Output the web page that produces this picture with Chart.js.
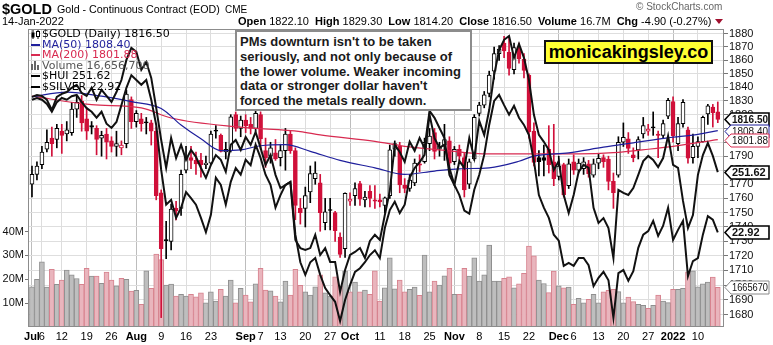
<!DOCTYPE html>
<html>
<head>
<meta charset="utf-8">
<title>$GOLD Daily</title>
<script src="https://cdn.jsdelivr.net/npm/chart.js@4.4.1/dist/chart.umd.min.js"></script>
<style>
  html, body { margin: 0; padding: 0; background: #fff; }
  #wrap { position: relative; width: 773px; height: 345px; overflow: hidden; font-family: Arial, "Liberation Sans", sans-serif; color: #000; }
  #chart { position: absolute; left: 0; top: 0; }
  .t { position: absolute; white-space: nowrap; }
  #sym { left: 2px; top: 1px; font-weight: bold; font-size: 14.5px; }
  #name { left: 57px; top: 3px; font-size: 10.7px; }
  #exch { left: 225px; top: 4px; font-size: 10px; }
  #date { left: 2px; top: 15px; font-size: 11px; }
  #ohlc { left: 238px; top: 15px; font-size: 11px; }
  #ohlc b { margin-left: 3px; }
  #ohlc b:first-child { margin-left: 0; }
  #ohlc .tri { display: inline-block; width: 0; height: 0; margin-left: 4px; border-left: 4px solid transparent; border-right: 4px solid transparent; border-top: 5px solid #a0102e; vertical-align: 1px; }
  #copy { left: 636px; top: 1px; font-size: 10px; color: #666; }
  #legend { left: 31px; top: 29px; font: 11px "DejaVu Sans", Verdana, sans-serif; line-height: 10.5px; }
  #legend div { height: 10.5px; }
  #legend i { display: inline-block; width: 9px; margin-right: 2px; vertical-align: middle; }
  #legend svg { vertical-align: middle; margin-right: 2px; }
  #note { left: 235px; top: 30px; width: 237px; height: 81px; box-sizing: border-box; border: 2px solid #8c8c8c; background: #fff;
          padding: 3px 0 0 3px; font: bold 13px Arial, "Liberation Sans", sans-serif; line-height: 14.8px; color: #1a1a1a; white-space: normal; }
  #brand { left: 544px; top: 40px; width: 169px; height: 24px; box-sizing: border-box; border: 2px solid #111; background: #ffff33;
           font: bold 18px Arial, "Liberation Sans", sans-serif; line-height: 20px; text-align: center; }
</style>
</head>
<body>
<div id="wrap">
  <canvas id="chart" width="773" height="345"></canvas>
  <div class="t" id="sym">$GOLD</div>
  <div class="t" id="name">Gold - Continuous Contract (EOD)</div>
  <div class="t" id="exch">CME</div>
  <div class="t" id="date">14-Jan-2022</div>
  <div class="t" id="ohlc"></div>
  <div class="t" id="copy">&copy; StockCharts.com</div>
  <div class="t" id="legend"></div>
  <div class="t" id="note">PMs downturn isn't to be taken seriously, and not only because of the lower volume. Weaker incoming data or stronger dollar haven't forced the metals really down.</div>
  <div class="t" id="brand">monicakingsley.co</div>
</div>
<script>
// trading days 1 Jul 2021 .. 14 Jan 2022, one entry per session
const opens = [1770, 1777, 1784, 1795, 1803, 1802, 1808, 1806, 1807, 1824,
  1830, 1817, 1812, 1810, 1803, 1806, 1801, 1797, 1796, 1799,
  1831, 1815, 1817, 1814.5, 1814, 1808, 1764, 1731, 1730, 1753,
  1753, 1780, 1789, 1787, 1787, 1784, 1785, 1808.5, 1805, 1793,
  1794, 1820, 1810, 1816, 1813, 1810, 1820, 1794, 1790, 1792.5,
  1789, 1794, 1806, 1794, 1753, 1753, 1764.5, 1774, 1771, 1743,
  1752, 1750, 1733, 1725, 1758, 1762, 1770.5, 1759, 1765, 1759,
  1759, 1755, 1762, 1795, 1797, 1769.5, 1767, 1771, 1784.5, 1786,
  1799, 1807, 1795, 1798, 1801, 1786, 1795, 1789, 1770, 1788,
  1821, 1827, 1835.5, 1852, 1865, 1873, 1866, 1853, 1869.5, 1861,
  1849, 1808, 1789, 1789, 1795, 1786, 1775.5, 1784, 1769, 1786,
  1780, 1781, 1784.5, 1776.5, 1785, 1789, 1788, 1772, 1776.5, 1800,
  1802.5, 1791, 1794.5, 1806, 1808, 1811, 1806, 1805, 1819, 1829.5,
  1799, 1813.5, 1809, 1789, 1797, 1800.5, 1820.5, 1825.5, 1822.1];

const highs = [1783, 1786, 1797, 1809, 1811, 1813, 1813, 1815, 1829, 1834,
  1834, 1825, 1815, 1812, 1808, 1810, 1804, 1808, 1801, 1838,
  1833, 1823, 1821, 1818, 1816, 1811, 1766, 1744, 1756, 1758,
  1780, 1797, 1797, 1793, 1792, 1790, 1808, 1812, 1806, 1800,
  1820, 1822, 1819, 1820, 1818, 1832, 1822, 1803, 1800, 1802,
  1798, 1810, 1808, 1796, 1760, 1768, 1783, 1786, 1777, 1760,
  1760, 1751, 1736, 1764, 1764, 1771, 1772, 1765, 1769, 1769,
  1763, 1761, 1798, 1801, 1800, 1774, 1777, 1788, 1791, 1803,
  1810, 1810, 1800, 1813, 1804, 1797, 1798, 1792, 1788, 1820,
  1829, 1837, 1852, 1870, 1871, 1878, 1878, 1873, 1873, 1865,
  1850, 1814, 1794, 1798, 1812, 1813, 1790, 1785, 1788, 1791,
  1788, 1789, 1787, 1788, 1792, 1791, 1790, 1778, 1804, 1814,
  1807, 1796, 1804, 1818, 1813, 1822, 1808, 1816, 1832, 1833,
  1818, 1831, 1811, 1806, 1804, 1819, 1827.5, 1827.5, 1829.3];

const lows = [1761, 1773, 1781, 1793, 1790, 1796, 1792, 1801, 1805, 1818,
  1808, 1802, 1806, 1791, 1790, 1788, 1793, 1790, 1791, 1796,
  1810, 1811, 1808, 1806, 1798, 1759, 1678, 1718, 1724, 1745,
  1748, 1778, 1781, 1777, 1775, 1781, 1784, 1803, 1793, 1788,
  1793, 1808, 1804, 1807, 1806, 1808, 1795, 1782, 1785, 1787,
  1783, 1780, 1792, 1745, 1742, 1740, 1757, 1770, 1737, 1738,
  1738, 1730, 1719, 1719, 1755, 1755, 1755, 1754, 1754, 1753,
  1754, 1750, 1760, 1790, 1764, 1764, 1765, 1769, 1779, 1785,
  1794, 1788, 1790, 1787, 1782, 1784, 1787, 1761, 1767, 1787,
  1819, 1825, 1833, 1846, 1860, 1862, 1849, 1850, 1858, 1847,
  1803, 1783, 1776, 1776, 1778, 1769, 1773, 1761, 1767, 1777,
  1778, 1777, 1775, 1775, 1781, 1782, 1766, 1753, 1775, 1797,
  1792, 1786, 1788, 1803, 1805, 1805, 1789, 1803, 1817, 1800,
  1794, 1811, 1785, 1785, 1789, 1800, 1813, 1811, 1814.2];

const closes = [1777, 1783, 1793, 1800, 1799, 1810, 1805, 1809, 1824, 1829,
  1814, 1808, 1811, 1802, 1805, 1800, 1797, 1799, 1798, 1835,
  1815, 1821, 1813.5, 1814, 1808, 1762, 1725, 1730.5, 1752.5, 1751,
  1777, 1789.5, 1787, 1784.5, 1784, 1785, 1806, 1808, 1793.5, 1795,
  1818.5, 1810, 1816, 1812, 1810, 1821, 1802.5, 1789, 1796, 1788,
  1794, 1806, 1794, 1755, 1750, 1762, 1777.5, 1778, 1750, 1750.5,
  1751.5, 1737.5, 1721, 1763.5, 1759.5, 1767, 1759.5, 1761, 1760, 1758,
  1757.5, 1760.5, 1794.5, 1799, 1769.5, 1767, 1773, 1785, 1783.5, 1800,
  1804.5, 1793.5, 1797, 1802, 1785, 1795, 1790, 1766, 1786, 1818,
  1827, 1834.5, 1849, 1865, 1868.5, 1867, 1854, 1869.5, 1861, 1852.5,
  1807.5, 1785.5, 1786, 1787, 1784, 1774, 1783, 1762.5, 1784.5, 1780,
  1785, 1786, 1777.5, 1784.5, 1788.5, 1786, 1772, 1764, 1800, 1803.5,
  1795.5, 1789, 1802, 1812, 1809.5, 1810.5, 1805, 1813.5, 1830.5, 1804.5,
  1813.5, 1829, 1788.5, 1797, 1800.5, 1818, 1826.5, 1821.4, 1816.5];

// volume in millions of contracts
const volumes = [16.8, 20.0, 27.3, 16.7, 24.2, 17.9, 19.6, 23.8, 21.8, 20.3,
  17.9, 24.6, 21.3, 21.3, 18.3, 23.0, 19.6, 17.2, 20.4, 20.0,
  15.0, 15.4, 9.5, 23.5, 16.2, 30.5, 28.2, 17.6, 18.0, 12.9,
  13.7, 13.0, 13.7, 12.6, 14.3, 10.1, 14.7, 10.9, 15.8, 12.9,
  19.6, 10.1, 16.2, 13.4, 10.5, 18.1, 24.6, 15.5, 15.1, 12.9,
  10.5, 19.2, 13.4, 24.2, 17.5, 14.7, 13.4, 16.8, 21.8, 14.3,
  12.9, 21.0, 17.1, 23.5, 14.7, 18.8, 14.7, 15.5, 13.7, 23.5,
  10.9, 16.4, 29.0, 16.0, 19.6, 14.7, 15.8, 16.7, 13.3, 30.1,
  14.7, 19.2, 17.6, 21.4, 24.6, 13.7, 13.7, 24.6, 21.3, 29.0,
  19.2, 21.8, 34.3, 19.2, 19.2, 20.4, 21.0, 16.4, 18.1, 22.5,
  33.9, 29.8, 19.6, 18.2, 14.4, 23.4, 17.2, 16.4, 16.7, 9.5,
  12.0, 10.1, 11.6, 13.7, 10.1, 14.7, 15.4, 15.8, 14.8, 10.1,
  12.5, 10.6, 9.5, 9.1, 7.8, 9.1, 13.4, 10.9, 10.2, 15.8,
  15.8, 16.2, 23.1, 23.5, 16.8, 18.1, 18.8, 20.9, 16.6567];

const hui = [276.7, 277.3, 277.0, 275.7, 272.3, 276.7, 277.7, 278.3, 279.7, 280.7,
  278.0, 277.0, 279.7, 275.7, 279.0, 277.0, 275.0, 278.3, 282.3, 289.0,
  293.0, 291.7, 285.7, 288.3, 283.0, 273.0, 262.3, 253.0, 263.0, 256.3,
  260.7, 255.7, 259.0, 256.7, 253.0, 249.7, 254.0, 257.3, 255.7, 251.7,
  260.7, 262.3, 259.0, 263.3, 260.7, 265.0, 259.7, 254.0, 257.3, 250.7,
  246.3, 247.3, 248.3, 229.0, 226.3, 225.7, 226.3, 230.7, 224.0, 226.3,
  221.7, 221.7, 211.7, 219.0, 224.0, 225.0, 226.3, 223.0, 228.7, 230.7,
  229.0, 237.3, 245.3, 260.7, 258.3, 255.0, 261.7, 258.7, 263.0, 259.7,
  272.0, 269.7, 266.3, 263.0, 250.7, 247.3, 255.3, 253.0, 263.0, 256.3,
  268.7, 264.0, 272.3, 284.0, 292.3, 295.7, 297.0, 289.7, 294.3, 289.7,
  282.3, 270.7, 264.0, 261.7, 259.0, 252.3, 255.3, 244.0, 238.0, 244.0,
  251.7, 254.0, 253.0, 239.7, 234.7, 236.3, 233.0, 223.0, 245.7, 244.7,
  244.0, 246.3, 250.7, 255.3, 257.0, 255.7, 253.3, 256.3, 263.7, 254.0,
  253.0, 242.0, 233.0, 237.3, 250.7, 257.3, 261.3, 257.0, 251.62];

const silver = [25.13, 25.16, 25.13, 25.06, 24.93, 25.09, 25.16, 25.13, 25.19, 25.21,
  25.09, 24.99, 24.93, 24.83, 24.93, 24.73, 24.66, 24.76, 25.04, 25.33,
  25.54, 25.46, 25.38, 25.46, 25.13, 24.71, 23.96, 23.38, 23.46, 23.16,
  23.33, 23.59, 23.49, 23.38, 23.16, 22.92, 23.21, 23.83, 23.71, 23.38,
  23.76, 23.99, 23.88, 24.13, 24.04, 24.38, 24.16, 23.88, 23.71, 23.33,
  23.54, 23.71, 23.76, 22.88, 22.42, 22.21, 22.42, 22.49, 22.21, 21.99,
  21.87, 21.76, 21.44, 21.79, 22.04, 22.26, 22.32, 22.42, 22.54, 22.62,
  22.49, 22.99, 23.29, 23.43, 23.24, 23.38, 23.83, 23.99, 24.09, 24.21,
  24.88, 24.49, 24.33, 24.38, 23.99, 23.71, 23.54, 23.28, 23.23, 23.63,
  23.88, 24.21, 24.71, 25.11, 25.21, 25.04, 24.88, 25.03, 24.83, 24.71,
  24.54, 24.11, 23.54, 23.33, 23.16, 22.88, 22.78, 22.36, 22.41, 22.36,
  22.49, 22.49, 22.37, 22.02, 22.16, 22.26, 22.12, 21.49, 22.24, 22.29,
  22.11, 22.27, 22.66, 22.88, 22.94, 23.11, 22.86, 23.03, 23.33, 22.79,
  22.96, 23.11, 22.19, 22.44, 22.49, 22.88, 23.19, 23.13, 22.92];

// moving averages, sampled at session indexes
const ma50Idx = [0, 7, 14, 20, 26, 30, 34, 38, 42, 46, 51, 56, 62, 69, 75, 81, 86, 92, 98, 101, 108, 115, 121, 128, 134, 138];
const ma50Val = [1833, 1836.5, 1833.5, 1829.5, 1824.5, 1812.5, 1802.5, 1794, 1794.5, 1797.5, 1798.3, 1793.5, 1787, 1781.7, 1777, 1779.4, 1781, 1781.7, 1786.4, 1790, 1792.4, 1796.5, 1799.6, 1803.2, 1805.7, 1808.4];
const ma200Idx = [0, 12, 22, 28, 42, 54, 58, 69, 75, 82, 92, 104, 110, 117, 124, 130, 138];
const ma200Val = [1833.5, 1827.3, 1824.9, 1817.6, 1810.9, 1807.7, 1805.3, 1800.7, 1797.1, 1794.6, 1791.6, 1791.6, 1791.6, 1792.5, 1795, 1797.6, 1801.88];

// x axis labels (session index -> text)
const xTickIdx = [0, 2, 6, 11, 16, 21, 26, 31, 36, 43, 46, 50, 55, 60, 64, 70, 75, 80, 85, 90, 95, 100, 106, 109, 114, 119, 124, 129, 134];
const xTickText = ['Jul', '6', '12', '19', '26', 'Aug', '9', '16', '23', 'Sep', '7', '13', '20', '27', 'Oct', '11', '18', '25', 'Nov', '8', '15', '22', 'Dec', '6', '13', '20', '27', '2022', '10'];
const monthIdx = new Set([0, 21, 43, 64, 85, 106, 129]);
const priceTicks = [1680, 1690, 1700, 1710, 1720, 1730, 1740, 1750, 1760, 1770, 1780, 1790, 1800, 1810, 1820, 1830, 1840, 1850, 1860, 1870, 1880];
const volTicks = [10, 20, 30, 40];

const RED = '#d0103a';
const BLUE = '#1f1f9c';
const MARED = '#d82a50';
const n = closes.length - 1;
const idx = closes.map((_, i) => i);
const down = idx.map(i => i > 0 && closes[i] < closes[i - 1]);
const candleCol = idx.map(i => down[i] ? RED : '#000');
const bodyFill = idx.map(i => closes[i] < opens[i] ? candleCol[i] : '#fff');
const xLabel = {};
xTickIdx.forEach((v, k) => { xLabel[v] = xTickText[k]; });

// header and legend texts
const chg = closes[n] - closes[n - 1];
document.getElementById('ohlc').innerHTML =
  `<b>Open</b> ${opens[n].toFixed(2)} <b>High</b> ${highs[n].toFixed(2)} <b>Low</b> ${lows[n].toFixed(2)} ` +
  `<b>Close</b> ${closes[n].toFixed(2)} <b>Volume</b> ${volumes[n].toFixed(1)}M <b>Chg</b> ${chg.toFixed(2)} ` +
  `(${(chg / closes[n - 1] * 100).toFixed(2)}%)<span class="tri"></span>`;

const candleIcon = '<svg width="9" height="9"><line x1="2" y1="0" x2="2" y2="9" stroke="#000"/><rect x="0.5" y="2.5" width="3" height="5" fill="#000"/>' +
  '<line x1="7" y1="0" x2="7" y2="9" stroke="#000"/><rect x="5.5" y="1.5" width="3" height="5" fill="#fff" stroke="#000"/></svg>';
const volIcon = '<svg width="9" height="9"><rect x="0" y="3" width="2" height="6" fill="#666"/><rect x="3" y="0" width="2" height="9" fill="#666"/><rect x="6" y="4" width="2" height="5" fill="#666"/></svg>';
const dash = c => `<i style="border-top:2px solid ${c}"></i>`;
document.getElementById('legend').innerHTML = [
  `<div>${candleIcon}$GOLD (Daily) ${closes[n].toFixed(2)}</div>`,
  `<div style="color:${BLUE}">${dash(BLUE)}MA(50) ${ma50Val[ma50Val.length - 1].toFixed(2)}</div>`,
  `<div style="color:${MARED}">${dash(MARED)}MA(200) ${ma200Val[ma200Val.length - 1].toFixed(2)}</div>`,
  `<div style="color:#555">${volIcon}Volume ${Math.round(volumes[n] * 1e6).toLocaleString('en-US')}</div>`,
  `<div>${dash('#000')}$HUI ${hui[n].toFixed(2)}</div>`,
  `<div>${dash('#000')}$SILVER ${silver[n].toFixed(2)}</div>`
].join('');

// value flags on the right edge
const tags = [
  { axis: 'y', value: closes[n], text: closes[n].toFixed(2), color: '#000', bold: true },
  { axis: 'y', value: ma50Val[ma50Val.length - 1], text: ma50Val[ma50Val.length - 1].toFixed(2), color: BLUE },
  { axis: 'y', value: ma200Val[ma200Val.length - 1], text: ma200Val[ma200Val.length - 1].toFixed(2), color: MARED },
  { axis: 'yHui', value: hui[n], text: hui[n].toFixed(2), color: '#000', bold: true },
  { axis: 'ySil', value: silver[n], text: silver[n].toFixed(2), color: '#000', bold: true },
  { axis: 'yVol', value: volumes[n], text: String(Math.round(volumes[n] * 1e6)).slice(0, 7), color: '#8a8a8a' }
];

function drawTag(ctx, x, y, text, color, bold) {
  const h = 13, w = 38, tip = 6;
  y = Math.round(y) + 0.5;
  ctx.beginPath();
  ctx.moveTo(x, y);
  ctx.lineTo(x + tip, y - h / 2);
  ctx.lineTo(x + tip + w, y - h / 2);
  ctx.lineTo(x + tip + w, y + h / 2);
  ctx.lineTo(x + tip, y + h / 2);
  ctx.closePath();
  ctx.fillStyle = '#fff';
  ctx.fill();
  ctx.lineWidth = bold ? 1.6 : 1;
  ctx.strokeStyle = color;
  ctx.stroke();
  ctx.fillStyle = '#111';
  ctx.font = (bold ? 'bold ' : '') + '11px Arial, "Liberation Sans"';
  ctx.textBaseline = 'middle';
  ctx.textAlign = 'left';
  ctx.fillText(text, x + tip + 1, y + 0.5, w - 2);
}

const overlay = {
  id: 'overlay',
  afterDraw(chart) {
    const { ctx, chartArea: a, scales } = chart;
    ctx.save();
    ctx.strokeStyle = '#8c8c8c';
    ctx.lineWidth = 1;
    ctx.strokeRect(a.left + 0.5, a.top + 0.5, a.right - a.left - 1, a.bottom - a.top - 1);
    tags.forEach(t => drawTag(ctx, a.right + 1, scales[t.axis].getPixelForValue(t.value), t.text, t.color, t.bold));
    ctx.restore();
  }
};

const font = { family: 'Arial, "Liberation Sans", sans-serif', size: 11 };

new Chart(document.getElementById('chart'), {
  type: 'bar',
  data: {
    datasets: [
      { type: 'line', label: '$HUI', data: idx.map(i => ({ x: i, y: hui[i] })), yAxisID: 'yHui',
        borderColor: '#111', borderWidth: 2, pointRadius: 0, order: 1 },
      { type: 'line', label: '$SILVER', data: idx.map(i => ({ x: i, y: silver[i] })), yAxisID: 'ySil',
        borderColor: '#111', borderWidth: 2, pointRadius: 0, order: 1 },
      { type: 'line', label: 'MA(50)', data: ma50Idx.map((v, k) => ({ x: v, y: ma50Val[k] })), yAxisID: 'y',
        borderColor: BLUE, borderWidth: 1.2, pointRadius: 0, cubicInterpolationMode: 'monotone', order: 2 },
      { type: 'line', label: 'MA(200)', data: ma200Idx.map((v, k) => ({ x: v, y: ma200Val[k] })), yAxisID: 'y',
        borderColor: MARED, borderWidth: 1.2, pointRadius: 0, cubicInterpolationMode: 'monotone', order: 2 },
      { label: 'body', data: idx.map(i => ({ x: i, y: [Math.min(opens[i], closes[i]), Math.max(opens[i], closes[i])] })),
        yAxisID: 'y', backgroundColor: bodyFill, borderColor: candleCol, borderWidth: 1, borderSkipped: false,
        barThickness: 4, minBarLength: 1, grouped: false, order: 3 },
      { label: 'wick', data: idx.map(i => ({ x: i, y: [lows[i], highs[i]] })), yAxisID: 'y',
        backgroundColor: candleCol, barThickness: 1, grouped: false, order: 4 },
      { label: 'Volume', data: idx.map(i => ({ x: i, y: volumes[i] })), yAxisID: 'yVol',
        backgroundColor: down.map(d => d ? '#e9b5bd' : '#bebebe'), borderColor: down.map(d => d ? '#d7838f' : '#8f8f8f'),
        borderWidth: 1, borderSkipped: 'bottom', barThickness: 5, grouped: false, order: 5 }
    ]
  },
  options: {
    responsive: false,
    animation: false,
    devicePixelRatio: 1,
    layout: { padding: { top: 29 } },
    plugins: { legend: { display: false }, tooltip: { enabled: false } },
    scales: {
      x: {
        type: 'linear', min: -0.8, max: 139.25, bounds: 'data', offset: false,
        afterBuildTicks: s => { s.ticks = xTickIdx.map(v => ({ value: v })); },
        afterFit: s => { s.height = 18; },
        border: { display: false },
        grid: { offset: false, drawTicks: false, color: c => monthIdx.has(c.tick && c.tick.value) ? '#bdbdbd' : '#dddddd' },
        ticks: {
          autoSkip: false, maxRotation: 0, padding: 3, color: '#000',
          callback: v => xLabel[v],
          font: c => ({ ...font, weight: monthIdx.has(c.tick && c.tick.value) ? 'bold' : 'normal' })
        }
      },
      y: {
        type: 'logarithmic', position: 'right', min: 1671.7, max: 1883.5, bounds: 'data',
        afterBuildTicks: s => { s.ticks = priceTicks.map(v => ({ value: v })); },
        afterFit: s => { s.width = 49; },
        border: { display: false },
        grid: { color: '#dedede', tickColor: '#777', tickLength: 4 },
        ticks: { autoSkip: false, callback: v => String(v), font, color: '#111', padding: 1 }
      },
      yVol: {
        type: 'linear', position: 'left', min: 0, max: 124.8, bounds: 'data',
        afterBuildTicks: s => { s.ticks = volTicks.map(v => ({ value: v })); },
        afterFit: s => { s.width = 28; },
        border: { display: false },
        grid: { drawOnChartArea: false, tickColor: '#777', tickLength: 3 },
        ticks: { autoSkip: false, callback: v => v + 'M', font, color: '#111', padding: 1 }
      },
      yHui: { type: 'linear', display: false, min: 200, max: 299.3 },
      ySil: { type: 'linear', display: false, min: 21.34, max: 26.31 }
    }
  },
  plugins: [overlay]
});
</script>
</body>
</html>
